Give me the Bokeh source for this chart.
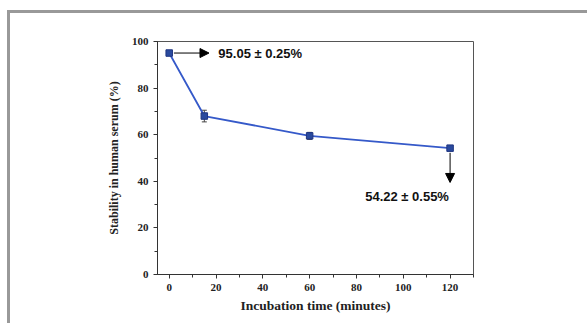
from bokeh.plotting import figure
from bokeh.models import (Range1d, SingleIntervalTicker, Whisker, TeeHead, Arrow,
                          NormalHead, ColumnDataSource, Label, InlineStyleSheet)
from bokeh.embed import file_html
from bokeh.resources import INLINE

# data
times = [0, 15, 60, 120]
stability = [95.05, 68.0, 59.5, 54.22]
errors = [0.25, 2.5, 1.5, 0.55]
label_first = "95.05 \u00b1 0.25%"
label_last = "54.22 \u00b1 0.55%"

upper = [s + e for s, e in zip(stability, errors)]
lower = [s - e for s, e in zip(stability, errors)]
src = ColumnDataSource(dict(x=times, y=stability, upper=upper, lower=lower))

p = figure(width=587, height=323, output_backend="svg", toolbar_location=None,
           x_range=Range1d(-5, 130), y_range=Range1d(0, 100),
           min_border_left=157, min_border_right=114, min_border_top=41,
           min_border_bottom=49)
p.grid.visible = False
p.outline_line_color = "#555555"
p.outline_line_width = 1

serif = "Liberation Serif"
for ax in (p.xaxis[0], p.yaxis[0]):
    ax.ticker = SingleIntervalTicker(interval=20, num_minor_ticks=2)
    ax.axis_line_color = "#333333"
    ax.major_tick_line_color = "#333333"
    ax.minor_tick_line_color = "#333333"
    ax.major_tick_in = 0
    ax.major_tick_out = 4
    ax.minor_tick_in = 0
    ax.minor_tick_out = 3
    ax.major_label_text_font = serif
    ax.major_label_text_font_style = "bold"
    ax.major_label_text_font_size = "11px"
    ax.major_label_text_color = "#222222"
    ax.axis_label_text_font = serif
    ax.axis_label_text_font_style = "bold"
    ax.axis_label_text_color = "#222222"

p.xaxis.axis_label = "Incubation time (minutes)"
p.xaxis.axis_label_text_font_size = "13.5px"
p.xaxis.axis_label_standoff = 4
p.xaxis.major_label_standoff = 5
p.yaxis.axis_label = "Stability in human serum (%)"
p.yaxis.axis_label_text_font_size = "12px"
p.yaxis.axis_label_standoff = 8
p.yaxis.major_label_standoff = 5

p.line("x", "y", source=src, line_color="#3559c9", line_width=1.8)
p.add_layout(Whisker(source=src, base="x", upper="upper", lower="lower",
                     line_color="#444444", line_width=1,
                     upper_head=TeeHead(size=5, line_color="#444444"),
                     lower_head=TeeHead(size=5, line_color="#444444")))
p.scatter("x", "y", source=src, marker="square", size=6.5,
          fill_color="#2a4a9e", line_color="#1f3580")

p.add_layout(Arrow(end=NormalHead(size=9, fill_color="black", line_color="black"),
                   x_start=times[0] + 2, y_start=stability[0],
                   x_end=17, y_end=stability[0], line_color="black", line_width=1))
p.add_layout(Label(x=21, y=stability[0], text=label_first, text_font="Liberation Sans",
                   text_font_style="bold", text_font_size="13px", text_baseline="middle",
                   text_color="#111111"))
p.add_layout(Arrow(end=NormalHead(size=9, fill_color="black", line_color="black"),
                   x_start=times[-1], y_start=stability[-1] - 2,
                   x_end=times[-1], y_end=39.5, line_color="black", line_width=1))
p.add_layout(Label(x=119.5, y=33.5, text=label_last, text_font="Liberation Sans",
                   text_font_style="bold", text_font_size="13px", text_baseline="middle",
                   text_align="right", text_color="#111111"))

p.stylesheets = [InlineStyleSheet(css=(
    ":host::after { content: ''; position: absolute; left: 7px; top: 10px; "
    "width: 580px; height: 313px; box-sizing: border-box; "
    "border-top: 3px solid #999999; border-left: 3px solid #999999; "
    "pointer-events: none; }"))]

open("out.html", "w").write(file_html(p, INLINE))
